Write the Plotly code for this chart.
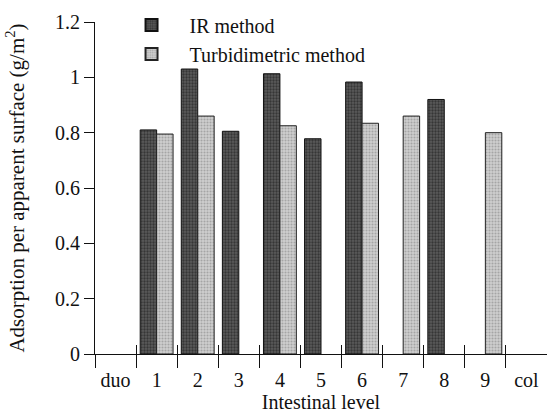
import plotly.graph_objects as go

categories = ["duo", "1", "2", "3", "4", "5", "6", "7", "8", "9", "col"]
ir_values = [None, 0.81, 1.03, 0.805, 1.013, 0.778, 0.983, None, 0.92, None, None]
turb_values = [None, 0.795, 0.86, None, 0.825, None, 0.834, 0.86, None, 0.80, None]
y_ticks = [0, 0.2, 0.4, 0.6, 0.8, 1.0, 1.2]
y_tick_text = ["0", "0.2", "0.4", "0.6", "0.8", "1", "1.2"]

xs = list(range(len(categories)))
bounds = [i - 0.5 for i in range(len(categories) + 1)]
FONT = "Liberation Serif, Times New Roman, serif"

fig = go.Figure()
fig.add_trace(go.Bar(
    x=xs, y=ir_values, name="IR method",
    marker=dict(color="#3a3a3a", line=dict(color="#111", width=1),
                pattern=dict(shape=".", fgcolor="#111", bgcolor="#5a5a5a", size=3, solidity=0.45)),
))
fig.add_trace(go.Bar(
    x=xs, y=turb_values, name="Turbidimetric method",
    marker=dict(color="#bdbdbd", line=dict(color="#222", width=1),
                pattern=dict(shape=".", fgcolor="#7a7a7a", bgcolor="#d0d0d0", size=3, solidity=0.4)),
))
# dummy traces to anchor overlay axes for boundary ticks
fig.add_trace(go.Scatter(x=[None], y=[None], xaxis="x2", showlegend=False, hoverinfo="skip"))
fig.add_trace(go.Scatter(x=[None], y=[None], xaxis="x3", showlegend=False, hoverinfo="skip"))

rng = [-0.5, len(categories) - 0.5]
fig.update_layout(
    width=547, height=415,
    margin=dict(l=95, r=0, t=22, b=61),
    paper_bgcolor="white", plot_bgcolor="white",
    font=dict(family=FONT, size=20, color="#111"),
    barmode="group", bargap=0.2, bargroupgap=0,
    showlegend=True,
    legend=dict(x=0.041, y=1.05, xanchor="left", yanchor="top",
                bgcolor="rgba(0,0,0,0)", font=dict(size=20), tracegroupgap=0,
                itemwidth=66, itemsizing="constant"),
    xaxis=dict(range=rng, tickmode="array", tickvals=xs, ticktext=categories,
               ticks="outside", ticklen=8, tickcolor="rgba(0,0,0,0)",
               showline=True, linecolor="#111", linewidth=1, showgrid=False, zeroline=False,
               title=dict(text="Intestinal level", font=dict(size=20), standoff=4)),
    xaxis2=dict(range=rng, overlaying="x", side="bottom", tickmode="array", tickvals=bounds,
                showticklabels=False, ticks="outside", ticklen=13, tickcolor="#111",
                showline=False, showgrid=False, zeroline=False),
    xaxis3=dict(range=rng, overlaying="x", side="bottom", tickmode="array", tickvals=bounds,
                showticklabels=False, ticks="inside", ticklen=9, tickcolor="#111",
                showline=False, showgrid=False, zeroline=False),
    yaxis=dict(range=[0, 1.2], tickmode="array", tickvals=y_ticks, ticktext=y_tick_text,
               ticks="outside", ticklen=10, tickcolor="#111",
               showline=True, linecolor="#111", linewidth=1, showgrid=False, zeroline=False,
               title=dict(text="Adsorption per apparent surface (g/m<sup>2</sup>)",
                          font=dict(size=21), standoff=24)),
)
fig.write_html("out.html")
